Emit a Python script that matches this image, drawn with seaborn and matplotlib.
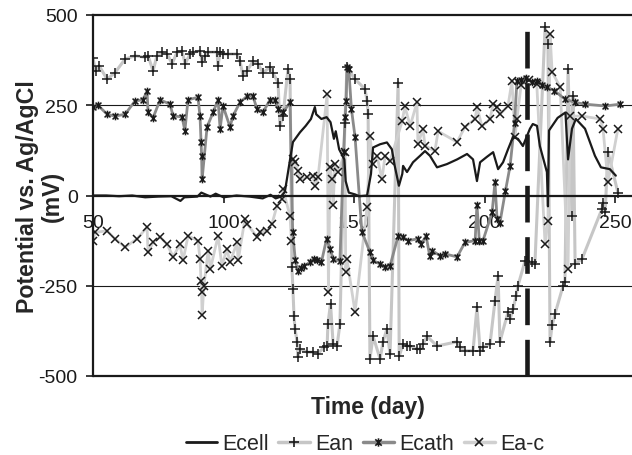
import numpy as np
import pandas as pd
import seaborn as sns
import matplotlib.pyplot as plt
from matplotlib.path import Path
from matplotlib.lines import Line2D

# Values (day, mV vs. Ag/AgCl)
ecell_day = [50, 55, 60, 65, 70, 75, 80, 83.5, 85, 90,
             91.5, 95, 97, 100, 105, 110, 115, 118, 120, 122,
             123.5, 125.5, 126.6, 129.3, 131.5, 133.5, 135, 135.5, 137.5, 139.5,
             141, 142.3, 143, 144.3, 146.3, 146.8, 148, 150.4, 152, 155,
             156.5, 157.3, 160, 162.6, 164.5, 165.6, 167.2, 168.5, 168.8, 170.3,
             172.6, 175.3, 177.2, 179.1, 181.8, 185.6, 189.5, 193.3, 195.6, 197.1,
             198.3, 200.9, 203.3, 205.2, 207.1, 209, 210.9, 212.8, 214.7, 217.4,
             218.5, 220.1, 221.2, 223.9, 224.3, 224.7, 228, 231, 232, 233.5,
             235, 238.5, 242.3, 244.6, 248, 250.3]
ecell_mv = [0, 0, -2, 0, -5, -3, -2, -15, -5, -3,
            8, -3, 5, -5, 0, -3, -8, 2, -8, -3,
            10, 100, 148, 175, 193, 212, 245, 225, 212, 217,
            203, 157, 178, 128, 100, 40, 8, 3, -2, 0,
            60, 133, 142, 147, 128, 82, 27, 60, 82, 65,
            92, 110, 123, 110, 78, 87, 100, 115, 100, 40,
            92, 107, 120, 73, 92, 128, 162, 157, 137, 185,
            198, 193, 137, 65, -30, 180, 215, 230, 100, 185,
            212, 185, 110, 78, 73, 55]

ean_day = [50, 51, 52.3, 55.4, 58.4, 62.3, 66.1, 69.9, 71.1, 73,
           74.5, 76.4, 78.4, 80.3, 82.2, 84.1, 85.3, 87.2, 88.3, 91,
           91.8, 92.9, 94.1, 97.5, 97.9, 98.7, 99.8, 101.7, 105.2, 106.3,
           107.5, 109, 111.3, 113.2, 115.1, 117.8, 118.9, 120.9, 121.6, 122.8,
           124.7, 125.5, 126.2, 126.6, 127.0, 127.4, 128.2, 128.5, 129.3, 132,
           134.3, 136.2, 138.5, 139.7, 140, 141, 142, 143.5, 144.6, 146.5,
           147.3, 150.4, 154.2, 155, 155.4, 156.1, 157.3, 160, 161.1, 162.6,
           163.8, 166.9, 167.3, 168.8, 170.3, 171.5, 174.1, 175.3, 176.4, 178,
           181.8, 189.5, 190.6, 192.5, 195.6, 197.1, 198.3, 199.4, 202.1, 204,
           205.2, 205.9, 209, 209.8, 210.9, 212.1, 212.8, 215.5, 218.2, 219.3,
           223.2, 224.3, 225.1, 225.9, 227, 230.1, 230.8, 232, 233.5, 233.9,
           234.7, 237.4, 245, 245.4, 246.2, 247.3, 251.1]
ean_mv = [380, 345, 360, 322, 340, 378, 387, 383, 387, 345,
          387, 397, 392, 365, 397, 400, 365, 392, 397, 400,
          370, 387, 397, 397, 360, 397, 392, 392, 392, 372,
          332, 345, 372, 365, 340, 355, 340, 313, 193, 220,
          350, 322, -198, -260, -333, -370, -405, -447, -425, -434,
          -434, -438, -420, -417, -356, -300, -412, -417, -356, 200,
          355, 322, 295, 262, 225, -453, -390, -453, -405, -370,
          -440, 313, -445, -412, -417, -417, -425, -425, -412, -390,
          -417, -405, -420, -430, -430, -310, -430, -420, -412, -292,
          -223, -405, -323, -342, -315, -278, -250, -182, -185, -190,
          467, 420, -405, -360, -328, -250, -240, 350, -57, 275,
          -190, -175, -37, -20, -47, 120, 8]

ecath_day = [50, 51.9, 55.4, 58.4, 62.3, 66.1, 69.2, 70.7, 71.1, 73,
             75.7, 79.5, 80.7, 84.1, 85.2, 86.4, 90.2, 91, 91.4, 91.6,
             91.8, 93.7, 96, 97.9, 98.7, 99.8, 102.5, 103.6, 106.3, 109,
             111.3, 112.8, 115.1, 117.8, 119.7, 120.9, 122.8, 125.5, 126.5, 127.5,
             128.5, 129.5, 131, 133, 134.5, 136, 137.5, 139.5, 140.8, 142,
             144.6, 146, 146.6, 147, 147.3, 148, 149, 150.4, 153, 156.1,
             157.3, 160, 162, 163.8, 166.9, 168.8, 170.7, 174.5, 175.7, 177.6,
             179, 180, 183, 185, 189.5, 192.5, 196.4, 197.1, 198, 199.4,
             202.9, 204, 204.8, 205.9, 208, 209.8, 211.5, 212.4, 214, 216,
             218, 220, 222, 224, 226.8, 230.8, 234.6, 238.5, 246.2, 252]
ecath_mv = [245, 250, 225, 220, 225, 262, 265, 290, 230, 215,
            265, 253, 220, 218, 180, 265, 272, 220, 148, 110,
            45, 190, 230, 265, 185, 248, 190, 220, 258, 275,
            275, 240, 230, 265, 265, 240, 230, 258, -100, -180,
            -210, -200, -195, -185, -175, -180, -185, -120, -148, -175,
            -182, 120, 217, 262, 355, 350, 240, 162, -100, -157,
            -180, -190, -198, -195, -112, -115, -125, -120, -135, -112,
            -167, -153, -167, -162, -170, -130, -125, -25, -125, -125,
            -47, 37, -65, -75, 12, 82, 200, 317, 320, 325,
            315, 318, 305, 300, 290, 267, 258, 253, 248, 253]

eac_day = [50, 50.8, 55.4, 58.4, 62.3, 66.9, 70.7, 71.1, 73, 75.7,
           78.4, 80.7, 83.3, 84.5, 86.4, 90.2, 91, 91.4, 91.6, 91.8,
           92.5, 94.1, 95, 97.9, 99.4, 101.3, 102.5, 105.2, 105.6, 108.2,
           109, 112.8, 114, 116.7, 118.6, 120.5, 122.4, 122.8, 125.5, 126,
           126.6, 127.4, 128.5, 129.3, 132, 134.3, 135, 136.2, 139.7, 140.2,
           140.8, 141.5, 142, 142.7, 143.9, 146.6, 146.8, 147.3, 150.4, 155,
           156.1, 157.3, 158.8, 160.7, 161.9, 163.8, 168.4, 169.5, 171.5, 174.1,
           174.5, 176.4, 177.2, 181, 182.2, 189.5, 192.5, 196.4, 197.1, 199,
           202.1, 203.3, 204.8, 205.9, 209, 210.5, 211.7, 212.4, 214, 217,
           220, 223.2, 224.3, 225.1, 225.9, 229, 232, 232.8, 237.4, 244.3,
           245.4, 247.3, 251.1]
eac_mv = [-125, -102, -98, -120, -143, -120, -88, -157, -130, -115,
          -135, -170, -135, -180, -112, -125, -176, -237, -267, -330,
          -250, -153, -203, -112, -195, -148, -185, -130, -180, -65,
          -78, -115, -102, -98, -78, -28, -10, 17, -57, -125,
          100, 92, 68, 45, 50, 55, 27, 50, 280, -267,
          80, 45, -25, 87, 65, 120, -212, -177, -323, -32,
          165, 87, 110, 45, 110, 95, 205, 247, 192, 258,
          142, 185, 138, 123, 178, 148, 190, 212, 245, 192,
          212, 253, 245, 225, 248, 317, 162, 212, 305, 320,
          310, -135, -70, 447, 342, 300, -203, 220, 220, 212,
          185, 37, 185]

event_day = 216.3
yticks = [-500, -250, 0, 250, 500]
xticks = [50, 100, 150, 200, 250]

sns.set_theme(style='white')
plt.rcParams['font.family'] = ['Liberation Sans', 'DejaVu Sans']

fig = plt.figure(figsize=(6.32, 4.56), dpi=100)
ax = fig.add_axes([93 / 632, 1 - 377 / 456, 539 / 632, 361 / 456])

# asterisk marker like the spreadsheet one: an x with a vertical bar
star = Path([(-1, -1), (1, 1), (-1, 1), (1, -1), (0, -1.3), (0, 1.3)],
            [Path.MOVETO, Path.LINETO] * 3)

series = [
    ('Ean', ean_day, ean_mv, '#c6c6c6', 2.2, '+', 6.5),
    ('Ea-c', eac_day, eac_mv, '#d0d0d0', 2.0, 'x', 5.5),
    ('Ecath', ecath_day, ecath_mv, '#8a8a8a', 2.0, star, 5.5),
]

for name, d, v, col, lw, mk, ms in series:
    sns.lineplot(x=d, y=v, sort=False, estimator=None, color=col, lw=lw,
                 legend=False, ax=ax, zorder=2)
sns.lineplot(x=ecell_day, y=ecell_mv, sort=False, estimator=None, color='k',
             lw=1.6, legend=False, ax=ax, zorder=3)
for name, d, v, col, lw, mk, ms in series:
    sns.lineplot(x=d, y=v, sort=False, estimator=None, linestyle='none',
                 marker=mk, ms=ms, mec='k', mfc='none', mew=1.1,
                 legend=False, ax=ax, zorder=4)

ax.vlines(event_day, -500, 460, colors='k', lw=3.3,
          linestyles=(0, (8, 3.2)), zorder=5)

for yv in (250, -250):
    ax.axhline(yv, color='k', lw=0.8, zorder=1)
ax.axhline(-500, color='k', lw=1.6, zorder=1, clip_on=False)

ax.set_xlim(50, 256.5)
ax.set_ylim(-500, 500)
ax.set_xticks(xticks)
ax.set_xticklabels([str(t) for t in xticks])
ax.set_yticks(yticks)
ax.set_yticklabels([str(t) for t in yticks])
ax.set_xlabel('')
ax.set_ylabel('')

ax.spines['right'].set_visible(False)
ax.spines['bottom'].set_position(('data', 0))
for s in ('top', 'left', 'bottom'):
    ax.spines[s].set_color('k')
    ax.spines[s].set_linewidth(1.6)

ax.tick_params(axis='both', which='major', direction='out', length=5,
               width=1.2, colors='k', labelsize=14, bottom=True, left=True)
ax.tick_params(axis='x', pad=8)
ax.tick_params(axis='y', pad=6)

# y label as two centred lines
fig.text(28 / 632, 1 - 196.5 / 456, 'Potential vs. Ag/AgCl',
         rotation=90, ha='center', va='center', fontsize=16.7, fontweight='bold')
fig.text(52 / 632, 1 - 196.5 / 456, '(mV)',
         rotation=90, ha='center', va='center', fontsize=16.7, fontweight='bold')
fig.text(368 / 632, 1 - 408 / 456, 'Time (day)', ha='center', va='center',
         fontsize=16.5, fontweight='bold')

handles = [
    Line2D([], [], color='k', lw=2),
    Line2D([], [], color='#c6c6c6', lw=2.5, marker='+', ms=7, mec='k', mew=1.2),
    Line2D([], [], color='#8a8a8a', lw=2.5, marker=star, ms=6, mec='k', mfc='none', mew=1.2),
    Line2D([], [], color='#d0d0d0', lw=2.5, marker='x', ms=6, mec='k', mew=1.2),
]
labels = ['Ecell', 'Ean', 'Ecath', 'Ea-c']
fig.legend(handles, labels, loc='center', bbox_to_anchor=(365 / 632, 1 - 445 / 456),
           ncol=4, frameon=False, fontsize=15.5, handlelength=1.45,
           handletextpad=0.25, columnspacing=0.45, borderpad=0, borderaxespad=0)

fig.savefig('out.png', dpi=100)
